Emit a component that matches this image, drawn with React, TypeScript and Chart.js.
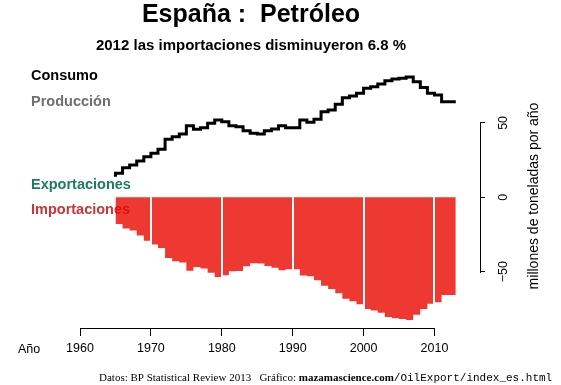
import React, { useEffect, useRef } from "react";
import { Chart, registerables } from "chart.js";

Chart.register(...registerables);

// ---- data ----
const years = [
  1965, 1966, 1967, 1968, 1969, 1970, 1971, 1972, 1973, 1974, 1975, 1976,
  1977, 1978, 1979, 1980, 1981, 1982, 1983, 1984, 1985, 1986, 1987, 1988,
  1989, 1990, 1991, 1992, 1993, 1994, 1995, 1996, 1997, 1998, 1999, 2000,
  2001, 2002, 2003, 2004, 2005, 2006, 2007, 2008, 2009, 2010, 2011, 2012,
];

const consumo = [
  13.8, 16.1, 19.9, 21.7, 24.4, 27.3, 29.6, 32.3, 39.0, 40.7, 42.5, 48.1,
  45.7, 46.8, 49.7, 51.9, 50.8, 48.1, 47.4, 44.8, 43.0, 42.5, 44.8, 45.9,
  48.1, 46.8, 46.8, 51.9, 50.4, 52.4, 57.5, 58.7, 62.5, 66.9, 68.1, 69.9,
  73.3, 74.3, 76.1, 78.4, 79.5, 80.0, 80.8, 77.7, 73.8, 70.0, 68.8, 64.2,
];

const importaciones = [
  -14.8, -17.9, -20.9, -22.3, -25.7, -29.2, -31.8, -34.0, -40.8, -42.9, -43.9, -49.3,
  -46.8, -47.9, -50.7, -53.5, -52.4, -49.7, -49.6, -46.3, -44.4, -44.5, -46.2, -47.4,
  -49.0, -48.3, -48.4, -52.6, -53.1, -55.8, -59.5, -61.6, -64.4, -68.2, -69.8, -71.8,
  -75.0, -76.0, -77.6, -80.4, -81.3, -81.8, -82.4, -79.0, -75.0, -71.5, -70.5, -65.7,
];

const xTickValues = [1960, 1970, 1980, 1990, 2000, 2010];
const yTickValues = [-50, 0, 50];
const decadeLines = [1970, 1980, 1990, 2000, 2010];

const titulo = "España :  Petróleo";
const subtitulo = "2012 las importaciones disminuyeron 6.8 %";
const leyenda = [
  { text: "Consumo", color: "#000000" },
  { text: "Producción", color: "#707070" },
  { text: "Exportaciones", color: "#1E7D5C" },
  { text: "Importaciones", color: "#C93636" },
];
const ejeY = "millones de toneladas por año";
const ejeX = "Año";
const pie1 = "Datos: BP Statistical Review 2013   Gráfico: ";
const pie2 = "mazamascience.com";
const pie3 = "/OilExport/index_es.html";

const SANS = "'Liberation Sans', Arial, Helvetica, sans-serif";
const SERIF = "'Liberation Serif', 'Times New Roman', serif";
const MONO = "'Liberation Mono', 'Courier New', monospace";

function stepPoints(xs: number[], ys: number[]) {
  const pts = xs.map((x, i) => ({ x, y: ys[i] }));
  // extend the last step by one year (R type="s" style)
  pts.push({ x: xs[xs.length - 1] + 1, y: ys[ys.length - 1] });
  return pts;
}

const decorPlugin = {
  id: "decor",
  beforeDatasetsDraw(chart: any) {
    const ctx = chart.ctx;
    ctx.save();
    ctx.font = `bold 14.5px ${SANS}`;
    ctx.textAlign = "left";
    ctx.textBaseline = "middle";
    const ys = [76, 101.5, 185, 209.5];
    leyenda.forEach((l, i) => {
      ctx.fillStyle = l.color;
      ctx.fillText(l.text, 31, ys[i]);
    });
    ctx.restore();
  },
  afterDatasetsDraw(chart: any) {
    const ctx = chart.ctx;
    const xs = chart.scales.x;
    const ys = chart.scales.y;
    ctx.save();
    ctx.strokeStyle = "#ffffff";
    ctx.lineWidth = 2;
    const y0 = ys.getPixelForValue(0);
    decadeLines.forEach((d) => {
      const px = Math.round(xs.getPixelForValue(d));
      ctx.beginPath();
      ctx.moveTo(px, y0);
      ctx.lineTo(px, chart.chartArea.bottom - 3);
      ctx.stroke();
    });
    ctx.restore();
  },
  afterDraw(chart: any) {
    const ctx = chart.ctx;
    const xs = chart.scales.x;
    const ys = chart.scales.y;
    const area = chart.chartArea;
    ctx.save();
    // axis lines spanning only the tick range (R style)
    ctx.strokeStyle = "#000";
    ctx.lineWidth = 1;
    ctx.beginPath();
    const yb = Math.round(area.bottom) + 0.5;
    ctx.moveTo(Math.round(xs.getPixelForValue(xTickValues[0])), yb);
    ctx.lineTo(Math.round(xs.getPixelForValue(xTickValues[xTickValues.length - 1])) + 1, yb);
    ctx.stroke();
    ctx.beginPath();
    const xr = Math.round(area.right) + 0.5;
    ctx.moveTo(xr, Math.round(ys.getPixelForValue(yTickValues[yTickValues.length - 1])));
    ctx.lineTo(xr, Math.round(ys.getPixelForValue(yTickValues[0])) + 1);
    ctx.stroke();

    ctx.fillStyle = "#000";
    // title
    ctx.textAlign = "center";
    ctx.textBaseline = "alphabetic";
    ctx.font = `bold 25px ${SANS}`;
    ctx.fillText(titulo, 251, 22);
    ctx.font = `bold 15px ${SANS}`;
    ctx.fillText(subtitulo, 251, 49.5);

    // x axis name
    ctx.textAlign = "left";
    ctx.font = `12.5px ${SANS}`;
    ctx.textBaseline = "middle";
    ctx.fillText(ejeX, 18, 349.5);

    // y axis title (reads bottom to top)
    ctx.save();
    ctx.translate(534, 196);
    ctx.rotate(-Math.PI / 2);
    ctx.textAlign = "center";
    ctx.textBaseline = "middle";
    ctx.font = `14px ${SANS}`;
    ctx.fillText(ejeY, 0, 0);
    ctx.restore();

    // footer
    ctx.textAlign = "left";
    ctx.textBaseline = "alphabetic";
    let x = 99;
    const by = 381;
    ctx.font = `11px ${SERIF}`;
    ctx.fillText(pie1, x, by);
    x += ctx.measureText(pie1).width;
    ctx.font = `bold 11px ${SERIF}`;
    ctx.fillText(pie2, x, by);
    x += ctx.measureText(pie2).width;
    ctx.font = `11px ${MONO}`;
    ctx.fillText(pie3, x, by);
    ctx.restore();
  },
};

// pixel calibration of the plot region
const PX_PER_YEAR = 7.09;
const X_AT_1960 = 80;
const AREA_LEFT = 21;
const AREA_RIGHT = 480;
const AREA_TOP = 60;
const AREA_BOTTOM = 328;
const Y_ZERO = 197.3;
const PX_PER_UNIT = 1.488;

export default function App() {
  const ref = useRef<HTMLCanvasElement | null>(null);

  useEffect(() => {
    if (!ref.current) return;
    const xMin = 1960 - (X_AT_1960 - AREA_LEFT) / PX_PER_YEAR;
    const xMax = 1960 + (AREA_RIGHT - X_AT_1960) / PX_PER_YEAR;
    const yMax = (Y_ZERO - AREA_TOP) / PX_PER_UNIT;
    const yMin = (Y_ZERO - AREA_BOTTOM) / PX_PER_UNIT;

    const chart = new Chart(ref.current, {
      type: "line",
      data: {
        datasets: [
          {
            label: "Importaciones",
            data: stepPoints(years, importaciones),
            stepped: "after",
            fill: "origin",
            backgroundColor: "rgba(234, 8, 0, 0.8)",
            borderWidth: 0,
            borderColor: "rgba(0,0,0,0)",
            pointRadius: 0,
          },
          {
            label: "Consumo",
            data: stepPoints(years, consumo),
            stepped: "after",
            fill: false,
            borderColor: "#000000",
            borderWidth: 3,
            borderJoinStyle: "miter",
            borderCapStyle: "butt",
            pointRadius: 0,
          },
        ] as any,
      },
      options: {
        animation: false,
        responsive: false,
        devicePixelRatio: 1,
        layout: { padding: { left: AREA_LEFT, top: AREA_TOP, right: 0, bottom: 0 } },
        plugins: {
          legend: { display: false },
          tooltip: { enabled: false },
          title: { display: false },
        },
        events: [],
        scales: {
          x: {
            type: "linear",
            position: "bottom",
            min: xMin,
            max: xMax,
            afterBuildTicks: (s: any) => {
              s.ticks = xTickValues.map((v) => ({ value: v }));
            },
            afterFit: (s: any) => {
              s.height = 385 - AREA_BOTTOM;
            },
            ticks: {
              autoSkip: false,
              maxRotation: 0,
              minRotation: 0,
              padding: 5,
              color: "#000",
              font: { family: SANS, size: 12.5 },
              callback: (v: any) => String(v),
            },
            grid: {
              drawOnChartArea: false,
              drawTicks: true,
              tickLength: 8,
              color: "#000",
              lineWidth: 1,
            },
            border: { display: false },
          },
          y: {
            type: "linear",
            position: "right",
            min: yMin,
            max: yMax,
            afterBuildTicks: (s: any) => {
              s.ticks = yTickValues.map((v) => ({ value: v }));
            },
            afterFit: (s: any) => {
              s.width = 561 - AREA_RIGHT;
            },
            ticks: {
              autoSkip: false,
              minRotation: 90,
              maxRotation: 90,
              crossAlign: "center",
              padding: 8,
              color: "#000",
              font: { family: SANS, size: 12.5 },
              callback: (v: any) => (v < 0 ? "\u2212" + Math.abs(v) : String(v)),
            },
            grid: {
              drawOnChartArea: false,
              drawTicks: true,
              tickLength: 5,
              color: "#000",
              lineWidth: 1,
            },
            border: { display: false },
          },
        },
      } as any,
      plugins: [decorPlugin],
    });
    return () => chart.destroy();
  }, []);

  return (
    <div style={{ position: "absolute", left: 0, top: 0, width: 561, height: 385, background: "#fff" }}>
      <canvas ref={ref} width={561} height={385} style={{ display: "block", width: 561, height: 385 }} />
    </div>
  );
}
